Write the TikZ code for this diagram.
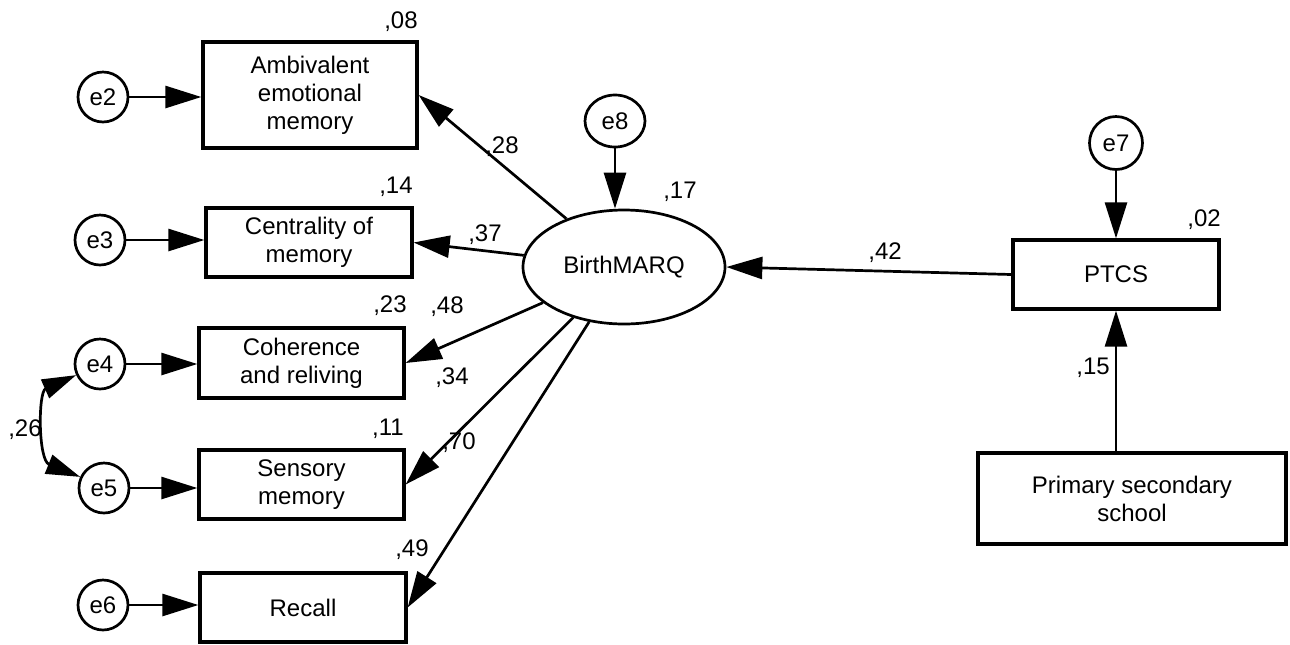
\documentclass[tikz,border=0pt]{standalone}
\usepackage{fontspec}
\setmainfont{Liberation Sans}
\usetikzlibrary{arrows.meta,shapes.geometric}
\begin{document}
\begin{tikzpicture}[x=0.5pt,y=-0.5pt,
  font=\fontsize{12}{14}\selectfont,
  box/.style={draw,line width=1.65pt,inner sep=0pt,align=center},
  err/.style={draw,circle,line width=1.35pt,minimum size=25pt,inner sep=0pt},
  lat/.style={draw,ellipse,line width=1.35pt,inner sep=0pt},
  arr/.style={line width=1.35pt,-{Triangle[length=18pt,width=11pt]}},
  dbl/.style={line width=1.35pt,{Triangle[length=17pt,width=10pt]}-{Triangle[length=17pt,width=10pt]}},
  lbl/.style={inner sep=0pt}]
\useasboundingbox (0,0) rectangle (1290,644);
% observed boxes
\node[box,minimum width=107pt,minimum height=53pt] (amb) at (310,95) {Ambivalent\\emotional\\memory};
\node[box,minimum width=103pt,minimum height=34.5pt] (cen) at (309,242.5) {Centrality of\\memory};
\node[box,minimum width=102.5pt,minimum height=35pt] (coh) at (301.5,363) {Coherence\\and reliving};
\node[box,minimum width=102.5pt,minimum height=34.5pt] (sen) at (301.5,484.5) {Sensory\\memory};
\node[box,minimum width=103pt,minimum height=34.5pt] (rec) at (303,607.5) {Recall};
\node[box,minimum width=103pt,minimum height=34.5pt] (ptcs) at (1116,274.5) {PTCS};
\node[box,minimum width=154pt,minimum height=45.5pt] (pss) at (1132,498.5) {Primary secondary\\school};
% latent
\node[lat,minimum width=101pt,minimum height=57pt] (bm) at (624,267) {BirthMARQ};
% errors
\node[err] (e2) at (103,97) {e2};
\node[err] (e3) at (100,240) {e3};
\node[err] (e4) at (100,364) {e4};
\node[err] (e5) at (104,488) {e5};
\node[err] (e6) at (103,605) {e6};
\node[err,minimum size=26.5pt] (e7) at (1116,143) {e7};
\node[lat,minimum width=30pt,minimum height=26pt] (e8) at (615,121) {e8};
% error arrows
\draw[arr] (e2) -- (e2 -| amb.west);
\draw[arr] (e3) -- (e3 -| cen.west);
\draw[arr] (e4) -- (e4 -| coh.west);
\draw[arr] (e5) -- (e5 -| sen.west);
\draw[arr] (e6) -- (e6 -| rec.west);
\draw[arr] (e7) -- (ptcs.north);
\draw[arr] (e8) -- (e8 |- bm.north);
\draw[dbl] (e4.205) .. controls (38,392) and (38,460) .. (e5.155);
% structural paths
\draw[arr] (bm) -- (amb.east);
\draw[arr] (bm) -- (cen.east);
\draw[arr] (bm) -- (coh.east);
\draw[arr] (bm) -- (sen.east);
\draw[arr] (bm) -- (rec.east);
\draw[arr] (ptcs.west) -- (bm.east);
\draw[arr] (ptcs.south |- pss.north) -- (ptcs.south);
% labels
\node[lbl] (l08) at (401,22) {,08};
\node[lbl] (l14) at (396,187) {,14};
\node[lbl] (l23) at (390,306) {,23};
\node[lbl] (l11) at (388,429) {,11};
\node[lbl] (l49) at (412,550) {,49};
\node[lbl] (l26) at (25,430) {,26};
\node[lbl] (l28) at (502,147) {,28};
\node[lbl] (l37) at (485,235) {,37};
\node[lbl] (l48) at (447,307) {,48};
\node[lbl] (l34) at (452,378) {,34};
\node[lbl] (l70) at (459,443) {,70};
\node[lbl] (l17) at (680,192) {,17};
\node[lbl] (l42) at (885,253) {,42};
\node[lbl] (l02) at (1204,220) {,02};
\node[lbl] (l15) at (1093,368) {,15};
\end{tikzpicture}
\end{document}
